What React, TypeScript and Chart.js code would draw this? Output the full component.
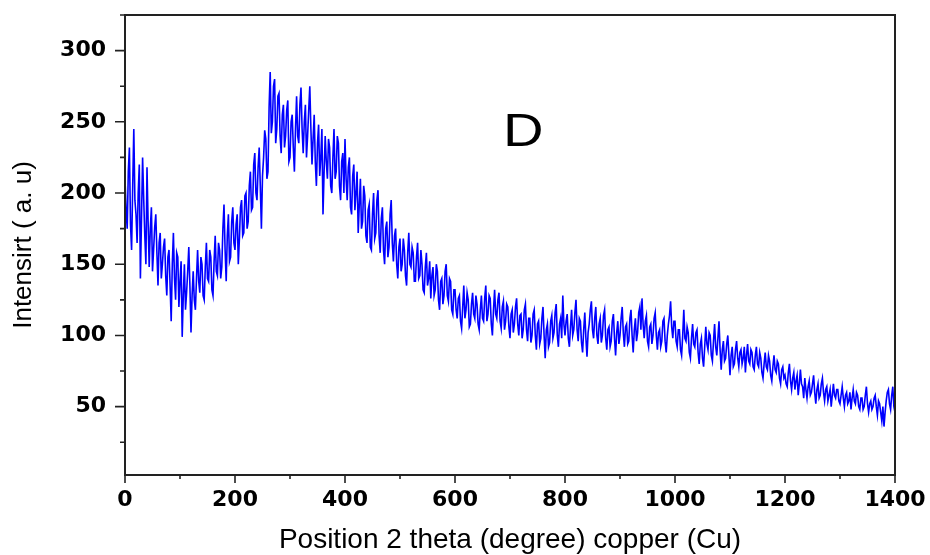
import React, { useEffect, useRef } from "react";
import { Chart, registerables } from "chart.js";

Chart.register(...registerables);

// sampling grid of the scan (position axis)
const X_START = 0;
const X_STEP = 2;

// intensity, split by position range
const intensity0to198 = [
  210, 188, 175, 215, 232, 178, 160, 205, 245, 195,
  185, 165, 200, 220, 140, 182, 225, 196, 170, 150,
  218, 180, 148, 175, 190, 145, 160, 176, 185, 158,
  135, 165, 172, 140, 150, 162, 168, 142, 128, 155,
  160, 135, 110, 150, 172, 140, 125, 158, 155, 120,
  138, 152, 99, 128, 150, 118, 130, 145, 162, 135,
  102, 128, 145, 125, 118, 140, 160, 138, 130, 155,
  150, 128, 125, 148, 165, 140, 138, 160, 155, 132,
  128, 152, 170, 145, 142, 165, 160, 140, 148, 175,
  192, 160, 138, 170, 185, 152, 155, 180, 190, 165,
];
const intensity200to398 = [
  160, 178, 185, 150, 168, 190, 195, 170, 172, 198,
  200, 175, 180, 205, 215, 188, 190, 220, 228, 200,
  195, 218, 232, 205, 175, 212, 225, 244, 238, 210,
  215, 260, 285, 242, 250, 275, 280, 235, 245, 268,
  270, 240, 228, 255, 262, 232, 240, 258, 265, 222,
  225, 250, 255, 232, 215, 245, 268, 240, 235, 262,
  274, 245, 228, 250, 262, 225, 240, 258, 275, 245,
  220, 238, 255, 222, 205, 235, 248, 212, 225, 245,
  185, 215, 240, 222, 210, 238, 232, 205, 200, 225,
  245, 210, 215, 240, 235, 205, 195, 222, 228, 200,
];
const intensity400to598 = [
  238, 210, 195, 218, 225, 190, 185, 212, 220, 188,
  200, 215, 172, 192, 210, 175, 180, 205, 198, 170,
  165, 188, 192, 162, 160, 185, 200, 168, 172, 195,
  202, 170, 158, 182, 190, 160, 150, 175, 180, 155,
  162, 185, 195, 165, 152, 170, 175, 150, 140, 162,
  168, 145, 150, 168, 160, 142, 135, 158, 172, 150,
  148, 162, 158, 138, 138, 155, 165, 140, 142, 160,
  150, 132, 130, 148, 158, 135, 140, 152, 126, 142,
  148, 128, 132, 150, 145, 125, 118, 138, 140, 122,
  128, 145, 150, 128, 124, 140, 138, 118, 115, 132,
];
const intensity600to798 = [
  132, 118, 112, 126, 128, 110, 105, 120, 135, 112,
  118, 130, 125, 106, 108, 122, 130, 115, 112, 128,
  122, 108, 104, 118, 128, 112, 110, 126, 135, 110,
  115, 128, 126, 108, 100, 118, 132, 115, 112, 125,
  130, 110, 105, 120, 124, 104, 110, 122, 120, 106,
  98, 115, 118, 102, 108, 120, 126, 108, 100, 114,
  115, 98, 104, 118, 122, 104, 96, 112, 112, 95,
  100, 115, 118, 100, 90, 108, 110, 94, 98, 112,
  120, 100, 84, 104, 108, 92, 95, 110, 114, 98,
  102, 116, 122, 100, 92, 108, 112, 98, 128, 108,
];
const intensity800to998 = [
  100, 110, 115, 98, 92, 106, 118, 100, 104, 116,
  125, 104, 96, 112, 110, 95, 88, 104, 116, 98,
  85, 102, 108, 118, 124, 104, 98, 112, 120, 100,
  94, 108, 112, 95, 100, 114, 118, 98, 90, 104,
  106, 92, 96, 110, 115, 98, 86, 102, 110, 94,
  100, 112, 120, 102, 92, 106, 108, 94, 96, 112,
  118, 100, 88, 104, 112, 96, 102, 116, 120, 104,
  126, 108, 98, 110, 114, 96, 92, 106, 108, 94,
  100, 112, 116, 100, 90, 102, 104, 92, 96, 110,
  112, 96, 88, 100, 108, 114, 124, 106, 98, 110,
];
const intensity1000to1198 = [
  110, 96, 92, 104, 104, 90, 86, 100, 118, 98,
  96, 106, 102, 88, 84, 98, 108, 94, 92, 102,
  104, 88, 80, 94, 98, 84, 78, 92, 106, 94,
  90, 102, 100, 86, 82, 96, 108, 92, 86, 98,
  110, 90, 76, 90, 96, 82, 84, 94, 100, 86,
  72, 86, 92, 78, 80, 90, 96, 84, 78, 88,
  90, 80, 84, 92, 74, 86, 94, 82, 80, 90,
  88, 78, 76, 86, 92, 80, 78, 88, 84, 74,
  70, 80, 88, 78, 76, 86, 82, 72, 68, 78,
  86, 76, 74, 82, 80, 70, 66, 76, 78, 70,
];
const intensity1200to1400 = [
  72, 66, 64, 74, 80, 68, 62, 70, 74, 62,
  68, 72, 58, 66, 76, 66, 64, 56, 70, 62,
  56, 64, 68, 58, 60, 66, 72, 60, 52, 62,
  66, 56, 58, 66, 70, 60, 54, 62, 64, 54,
  58, 62, 50, 58, 66, 58, 56, 62, 62, 54,
  52, 58, 64, 56, 50, 58, 60, 52, 54, 60,
  48, 56, 62, 54, 52, 60, 58, 50, 48, 56,
  56, 48, 50, 58, 64, 52, 46, 52, 54, 48,
  50, 56, 58, 50, 44, 54, 52, 46, 40, 50,
  36, 46, 54, 60, 62, 52, 48, 58, 64, 50,
  46,
];

const X_TICK_LABELS = ["0", "200", "400", "600", "800", "1000", "1200", "1400"];
const Y_TICK_LABELS = ["50", "100", "150", "200", "250", "300"];
const X_TITLE = "Position 2 theta (degree) copper (Cu)";
const Y_TITLE = "Intensirt ( a. u)";
const PANEL_LABEL = "D";
const PANEL_LABEL_POS = { x: 724, y: 233 };

const intensity = [
  ...intensity0to198,
  ...intensity200to398,
  ...intensity400to598,
  ...intensity600to798,
  ...intensity800to998,
  ...intensity1000to1198,
  ...intensity1200to1400,
];
const points = intensity.map((v, i) => ({ x: X_START + i * X_STEP, y: v }));

const tickFont = { family: "DejaVu Sans", weight: "bold" as const, size: 22 };

const framePlugin = {
  id: "frame",
  afterDraw(chart: any) {
    const { ctx, chartArea: a, scales } = chart;
    const x = scales.x;
    const y = scales.y;
    ctx.save();
    ctx.strokeStyle = "#222";
    ctx.lineWidth = 2;
    ctx.strokeRect(a.left, a.top, a.right - a.left, a.bottom - a.top);
    ctx.lineWidth = 1.6;
    ctx.beginPath();
    for (const t of x.ticks) {
      const px = x.getPixelForValue(t.value);
      const len = t.value % 200 === 0 ? 8 : 4;
      ctx.moveTo(px, a.bottom);
      ctx.lineTo(px, a.bottom + len);
    }
    for (const t of y.ticks) {
      const py = y.getPixelForValue(t.value);
      const len = t.value % 50 === 0 ? 10 : 5;
      ctx.moveTo(a.left - len, py);
      ctx.lineTo(a.left, py);
    }
    ctx.stroke();
    ctx.fillStyle = "#000";
    ctx.font = '46px "Liberation Sans"';
    ctx.textAlign = "center";
    ctx.textBaseline = "alphabetic";
    ctx.translate(
      x.getPixelForValue(PANEL_LABEL_POS.x),
      y.getPixelForValue(PANEL_LABEL_POS.y)
    );
    ctx.scale(1.22, 1);
    ctx.fillText(PANEL_LABEL, 0, 0);
    ctx.restore();
  },
};

export default function App() {
  const ref = useRef<HTMLCanvasElement>(null);
  useEffect(() => {
    document.body.style.margin = "0";
    const chart = new Chart(ref.current as HTMLCanvasElement, {
      type: "line",
      data: {
        datasets: [
          {
            data: points,
            borderColor: "#0000ff",
            borderWidth: 1.6,
            pointRadius: 0,
            tension: 0,
            fill: false,
          },
        ],
      },
      options: {
        responsive: false,
        animation: false,
        layout: { padding: { top: 15, right: 35, left: 0, bottom: 0 } },
        plugins: { legend: { display: false }, tooltip: { enabled: false } },
        scales: {
          x: {
            type: "linear",
            min: 0,
            max: 1400,
            afterFit: (s: any) => {
              s.height = 80;
              s.paddingLeft = 0;
              s.paddingRight = 0;
            },
            grid: { display: false, drawTicks: false },
            border: { display: false },
            ticks: {
              stepSize: 100,
              autoSkip: false,
              maxRotation: 0,
              padding: 12,
              color: "#000",
              font: tickFont,
              callback: (v: any) =>
                X_TICK_LABELS.includes(String(v)) ? String(v) : "",
            },
            title: {
              display: true,
              text: X_TITLE,
              color: "#000",
              font: { family: "Liberation Sans", size: 28, lineHeight: 1 },
              padding: { top: 0, bottom: 1 },
            },
          },
          y: {
            type: "linear",
            min: 2,
            max: 325,
            afterFit: (s: any) => {
              s.width = 125;
              s.paddingTop = 0;
              s.paddingBottom = 0;
            },
            grid: { display: false, drawTicks: false },
            border: { display: false },
            ticks: {
              stepSize: 25,
              includeBounds: false,
              autoSkip: false,
              padding: 19,
              color: "#000",
              font: tickFont,
              callback: (v: any) =>
                Y_TICK_LABELS.includes(String(v)) ? String(v) : "",
            },
            title: {
              display: true,
              text: Y_TITLE,
              color: "#000",
              font: { family: "Liberation Sans", size: 26, lineHeight: 1 },
              padding: { top: 11, bottom: 0 },
            },
          },
        },
      },
      plugins: [framePlugin],
    });
    return () => chart.destroy();
  }, []);
  return (
    <div style={{ width: 930, height: 555 }}>
      <canvas ref={ref} width={930} height={555} style={{ display: "block" }} />
    </div>
  );
}
